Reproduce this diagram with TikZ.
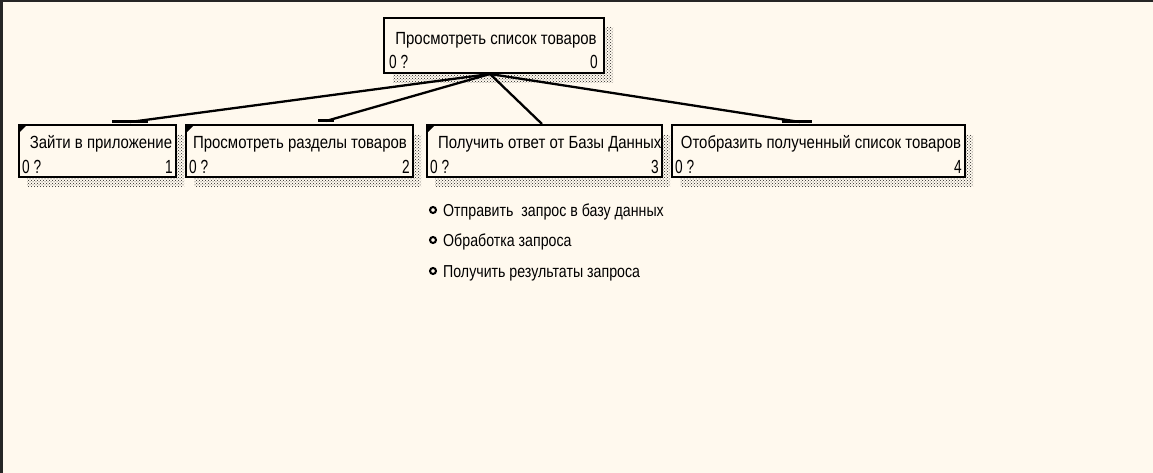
\documentclass[tikz,border=0pt]{standalone}
\usepackage{fontspec}
\setmainfont[FakeStretch=0.85]{Liberation Sans}
\newfontfamily\bulletfont[FakeStretch=0.82]{Liberation Sans}
\newfontfamily\numfont[FakeStretch=0.72]{Liberation Sans}
\usetikzlibrary{patterns}
\definecolor{bgcream}{HTML}{FFF9EE}
\definecolor{shadowgray}{HTML}{202020}
\tikzset{
  boxframe/.style={draw=black, line width=2pt, fill=bgcream},
  boxshadow/.style={pattern=crosshatch dots, pattern color=shadowgray, draw=none},
  titletext/.style={font=\fontsize{17.6}{19}\selectfont, inner sep=0pt, anchor=base},
  numtext/.style={font=\numfont\fontsize{19}{21}\selectfont, inner sep=0pt, anchor=base},
  conn/.style={line width=2.3pt, black},
  endbar/.style={line width=3pt, black},
  itemtext/.style={font=\bulletfont\fontsize{17.3}{19}\selectfont, inner sep=0pt, anchor=base west},
  bulletdot/.style={draw=black, line width=2pt, fill=bgcream, circle, minimum size=6pt, inner sep=0pt},
}
\begin{document}
\begin{tikzpicture}[x=1pt,y=-1pt]
\useasboundingbox (0,0) rectangle (1153,473);
\fill[bgcream] (0,0) rectangle (1153,473);
\draw[line width=3pt, black!85] (1.5,473) -- (1.5,1) -- (1153,1);

% shadows
\fill[boxshadow] (393,27) rectangle (613,83);
\fill[boxshadow] (27,135) rectangle (184,187);
\fill[boxshadow] (194,135) rectangle (421,187);
\fill[boxshadow] (435,135) rectangle (670,187);
\fill[boxshadow] (680,135) rectangle (973,187);

% boxes
\draw[boxframe] (384,18) rectangle (604,73);
\node[titletext] (t0) at (496,45) {Просмотреть список товаров};
\node[numtext, anchor=base west] (t0l) at (389,69) {0 ?};
\node[numtext, anchor=base east] (t0r) at (598,69) {0};
\coordinate (root) at (490,74);

\draw[boxframe] (19,125) rectangle (176,177);
\node[titletext] (t1) at (101,149) {Зайти в приложение};
\node[numtext, anchor=base west] (t1l) at (22,174) {0 ?};
\node[numtext, anchor=base east] (t1r) at (173,174) {1};

\draw[boxframe] (186,125) rectangle (413,177);
\node[titletext] (t2) at (300,149) {Просмотреть разделы товаров};
\node[numtext, anchor=base west] (t2l) at (189,174) {0 ?};
\node[numtext, anchor=base east] (t2r) at (410,174) {2};

\draw[boxframe] (427,125) rectangle (662,177);
\begin{scope}
\clip (428,126) rectangle (661,176);
\node[titletext, anchor=base west] (t3) at (438,149) {Получить ответ от Базы Данных};
\end{scope}
\node[numtext, anchor=base west] (t3l) at (430,174) {0 ?};
\node[numtext, anchor=base east] (t3r) at (659,174) {3};

\draw[boxframe] (672,125) rectangle (965,177);
\node[titletext] (t4) at (821,149) {Отобразить полученный список товаров};
\node[numtext, anchor=base west] (t4l) at (675,174) {0 ?};
\node[numtext, anchor=base east] (t4r) at (962,174) {4};

% corner ticks
\foreach \x in {19,186,427} {
  \fill[black] (\x+1,126) -- (\x+7,126) -- (\x+1,132) -- cycle;
}

% connectors
\coordinate (e1) at (130,122);
\coordinate (e2) at (326,121);
\coordinate (e3) at (542,124);
\coordinate (e4) at (800,122);
\draw[conn] (root) -- (e1);
\draw[conn] (root) -- (e2);
\draw[conn] (root) -- (e3);
\draw[conn] (root) -- (e4);
\draw[endbar] (112,122) -- (148,122);
\draw[endbar] (318,121) -- (334,121);
\draw[endbar] (782,122) -- (812,122);

% items
\node[bulletdot] (b1) at (433,210) {};
\node[itemtext] (i1) at (443,216) {Отправить \ запрос в базу данных};
\node[bulletdot] (b2) at (433,240) {};
\node[itemtext] (i2) at (443,246) {Обработка запроса};
\node[bulletdot] (b3) at (433,271) {};
\node[itemtext] (i3) at (443,277) {Получить результаты запроса};
\end{tikzpicture}
\end{document}
